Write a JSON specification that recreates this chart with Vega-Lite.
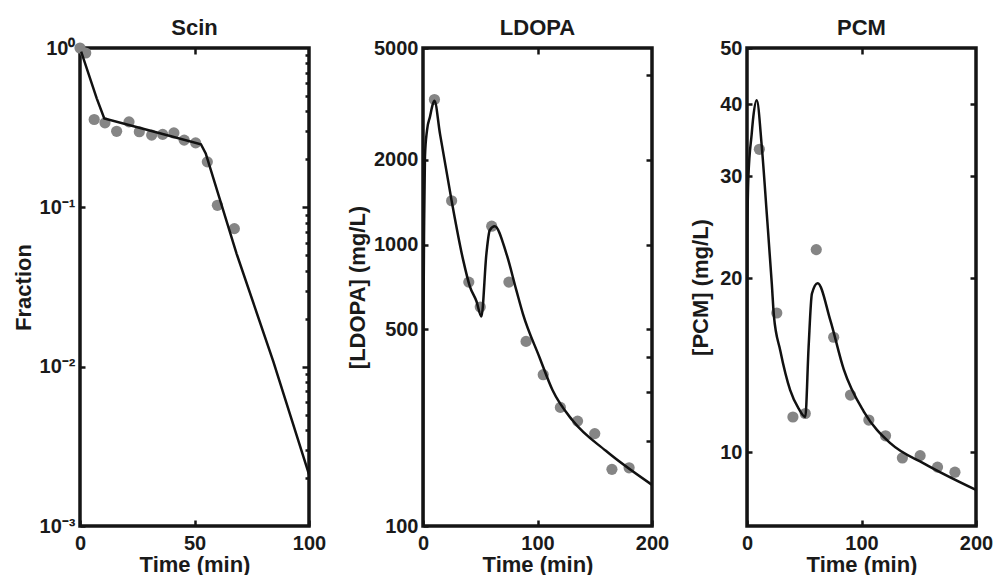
{
  "$schema": "https://vega.github.io/schema/vega-lite/v6.json",
  "autosize": {"type": "pad"},
  "padding": {"left": 10, "top": 15, "right": 0, "bottom": 0},
  "background": "white",
  "spacing": 16,
  "config": {
    "view": {"stroke": "#151515", "strokeWidth": 3.5},
    "font": "Liberation Sans",
    "title": {"font": "Liberation Sans", "fontSize": 22, "fontWeight": "bold", "color": "#1a1a1a", "baseline": "alphabetic", "offset": -2, "frame": "group", "anchor": "middle"},
    "axis": {"domain": false, "grid": false, "tickColor": "#151515", "tickWidth": 2.5, "labelFont": "Liberation Sans", "labelFontSize": 20, "labelFontWeight": "bold", "labelColor": "#1a1a1a", "labelFlush": false, "labelOverlap": false, "labelBound": false, "titleFont": "Liberation Sans", "titleFontSize": 22, "titleFontWeight": "bold", "titleColor": "#1a1a1a"}
  },
  "datasets": {
    "scin_pts": [
      {"t": 0, "v": 1.0}, {"t": 2.5, "v": 0.93}, {"t": 6.2, "v": 0.356}, {"t": 10.9, "v": 0.339}, {"t": 16, "v": 0.30}, {"t": 21.4, "v": 0.344}, {"t": 25.9, "v": 0.298}, {"t": 31.3, "v": 0.284}, {"t": 36.1, "v": 0.287}, {"t": 41, "v": 0.293}, {"t": 45.5, "v": 0.264}, {"t": 50.5, "v": 0.254}, {"t": 55.6, "v": 0.193}, {"t": 60, "v": 0.103}, {"t": 67.4, "v": 0.0735}
    ],
    "scin_fit": [
      {"t": 0.5, "v": 0.95}, {"t": 7.3, "v": 0.483}, {"t": 10.6, "v": 0.361}, {"t": 30, "v": 0.305}, {"t": 52.8, "v": 0.249}, {"t": 54.9, "v": 0.218}, {"t": 68.4, "v": 0.0511}, {"t": 84.4, "v": 0.0108}, {"t": 100, "v": 0.00211}
    ],
    "ldopa_pts": [
      {"t": 10, "v": 3281}, {"t": 25, "v": 1432}, {"t": 40, "v": 736}, {"t": 50, "v": 600}, {"t": 60, "v": 1163}, {"t": 75, "v": 736}, {"t": 90, "v": 453}, {"t": 105, "v": 345}, {"t": 120, "v": 264}, {"t": 135, "v": 236}, {"t": 150, "v": 213}, {"t": 165, "v": 159}, {"t": 180, "v": 161}
    ],
    "ldopa_fit": [
      {"t": 0, "v": 100}, {"t": 0.5, "v": 600}, {"t": 1, "v": 1200}, {"t": 1.7, "v": 2051}, {"t": 3.5, "v": 2550}, {"t": 6.1, "v": 2850}, {"t": 8.5, "v": 3150}, {"t": 10, "v": 3250}, {"t": 14.8, "v": 2484}, {"t": 24.9, "v": 1440}, {"t": 35.1, "v": 881}, {"t": 40.9, "v": 711}, {"t": 46.7, "v": 629}, {"t": 51, "v": 555}, {"t": 55.4, "v": 930}, {"t": 58.3, "v": 1125}, {"t": 62.6, "v": 1163}, {"t": 72.8, "v": 930}, {"t": 81.5, "v": 689}, {"t": 87.2, "v": 569}, {"t": 101.7, "v": 398}, {"t": 113.3, "v": 303}, {"t": 130.7, "v": 237}, {"t": 159.7, "v": 185}, {"t": 200, "v": 140}
    ],
    "pcm_pts": [
      {"t": 10.8, "v": 33.4}, {"t": 26, "v": 17.4}, {"t": 40.1, "v": 11.5}, {"t": 50.9, "v": 11.66}, {"t": 60.5, "v": 22.4}, {"t": 75.7, "v": 15.8}, {"t": 90.4, "v": 12.55}, {"t": 106.4, "v": 11.36}, {"t": 121, "v": 10.67}, {"t": 135.7, "v": 9.77}, {"t": 151.2, "v": 9.86}, {"t": 166.4, "v": 9.42}, {"t": 181.6, "v": 9.23}
    ],
    "pcm_fit": [
      {"t": 0, "v": 7.45}, {"t": 0.15, "v": 14}, {"t": 0.3, "v": 23.8}, {"t": 1.2, "v": 29.9}, {"t": 4.1, "v": 35.5}, {"t": 5.5, "v": 38.0}, {"t": 8.5, "v": 40.6}, {"t": 12.9, "v": 33.8}, {"t": 17.3, "v": 25.8}, {"t": 21.7, "v": 19.5}, {"t": 23.5, "v": 17.2}, {"t": 29, "v": 15.0}, {"t": 37.7, "v": 12.8}, {"t": 45, "v": 11.9}, {"t": 50.9, "v": 11.5}, {"t": 53.8, "v": 15.2}, {"t": 56.7, "v": 18.8}, {"t": 61.7, "v": 19.6}, {"t": 72.8, "v": 16.9}, {"t": 84.5, "v": 13.9}, {"t": 102, "v": 11.75}, {"t": 125.4, "v": 10.35}, {"t": 154.7, "v": 9.55}, {"t": 200, "v": 8.6}
    ]
  },
  "hconcat": [
    {
      "width": 229, "height": 478,
      "title": {"text": "Scin"},
      "layer": [
        {
          "data": {"name": "scin_pts"},
          "mark": {"type": "circle", "color": "#858585", "size": 125, "opacity": 1},
          "encoding": {
            "x": {"field": "t", "type": "quantitative", "scale": {"domain": [0, 100], "nice": false}, "axis": {"orient": "bottom", "values": [0, 50, 100], "tickSize": -6, "labelPadding": 13.5, "title": "Time (min)", "titleX": 114.5, "titleY": 45, "titleBaseline": "alphabetic", "titleAlign": "center"}},
            "y": {"field": "v", "type": "quantitative", "scale": {"type": "log", "domain": [0.001, 1], "nice": false}, "axis": {"orient": "left", "values": [0.001, 0.01, 0.1, 1], "labelExpr": "datum.value >= 0.5 ? '10⁰' : datum.value >= 0.05 ? '10⁻¹' : datum.value >= 0.005 ? '10⁻²' : '10⁻³'", "tickSize": -5, "labelPadding": 10, "title": "Fraction", "titleX": -57, "titleY": 239, "titleAngle": 270, "titleBaseline": "middle", "titleAlign": "center"}}
          }
        },
        {
          "data": {"name": "scin_fit"},
          "mark": {"type": "line", "color": "#111111", "strokeWidth": 2.5, "clip": true},
          "encoding": {
            "x": {"field": "t", "type": "quantitative", "scale": {"domain": [0, 100], "nice": false}, "axis": {"orient": "top", "values": [50], "tickSize": -6, "labels": false, "title": null}},
            "y": {"field": "v", "type": "quantitative", "scale": {"type": "log", "domain": [0.001, 1], "nice": false}, "axis": {"orient": "right", "values": [0.002, 0.003, 0.004, 0.005, 0.006, 0.007, 0.008, 0.009, 0.01, 0.02, 0.03, 0.04, 0.05, 0.06, 0.07, 0.08, 0.09, 0.1, 0.2, 0.3, 0.4, 0.5, 0.6, 0.7, 0.8, 0.9], "tickSize": {"condition": {"test": "datum.value == 0.01 || datum.value == 0.1", "value": -7}, "value": -4}, "labels": false, "title": null}}
          }
        }
      ],
      "resolve": {"axis": {"x": "independent", "y": "independent"}}
    },
    {
      "width": 229, "height": 478,
      "title": {"text": "LDOPA"},
      "layer": [
        {
          "data": {"name": "ldopa_pts"},
          "mark": {"type": "circle", "color": "#858585", "size": 125, "opacity": 1},
          "encoding": {
            "x": {"field": "t", "type": "quantitative", "scale": {"domain": [0, 200], "nice": false}, "axis": {"orient": "bottom", "values": [0, 100, 200], "tickSize": -6, "labelPadding": 13.5, "title": "Time (min)", "titleX": 114.5, "titleY": 45, "titleBaseline": "alphabetic", "titleAlign": "center"}},
            "y": {"field": "v", "type": "quantitative", "scale": {"type": "log", "domain": [100, 5000], "nice": false}, "axis": {"orient": "left", "values": [100, 500, 1000, 2000, 5000], "format": "d", "tickSize": -5, "labelPadding": 10, "title": "[LDOPA] (mg/L)", "titleX": -66, "titleY": 239, "titleAngle": 270, "titleBaseline": "middle", "titleAlign": "center"}}
          }
        },
        {
          "data": {"name": "ldopa_fit"},
          "mark": {"type": "line", "color": "#111111", "strokeWidth": 2.5, "interpolate": "monotone", "clip": true},
          "encoding": {
            "x": {"field": "t", "type": "quantitative", "scale": {"domain": [0, 200], "nice": false}, "axis": {"orient": "top", "values": [100], "tickSize": -6, "labels": false, "title": null}},
            "y": {"field": "v", "type": "quantitative", "scale": {"type": "log", "domain": [100, 5000], "nice": false}, "axis": {"orient": "right", "values": [200, 300, 400, 500, 1000, 2000, 4000], "tickSize": -6, "labels": false, "title": null}}
          }
        }
      ],
      "resolve": {"axis": {"x": "independent", "y": "independent"}}
    },
    {
      "width": 229, "height": 478,
      "title": {"text": "PCM"},
      "layer": [
        {
          "data": {"name": "pcm_pts"},
          "mark": {"type": "circle", "color": "#858585", "size": 125, "opacity": 1},
          "encoding": {
            "x": {"field": "t", "type": "quantitative", "scale": {"domain": [0, 200], "nice": false}, "axis": {"orient": "bottom", "values": [0, 100, 200], "tickSize": -6, "labelPadding": 13.5, "title": "Time (min)", "titleX": 114.5, "titleY": 45, "titleBaseline": "alphabetic", "titleAlign": "center"}},
            "y": {"field": "v", "type": "quantitative", "scale": {"type": "log", "domain": [7.45, 50], "nice": false}, "axis": {"orient": "left", "values": [10, 20, 30, 40, 50], "format": "d", "tickSize": -5, "labelPadding": 10, "title": "[PCM] (mg/L)", "titleX": -47, "titleY": 239, "titleAngle": 270, "titleBaseline": "middle", "titleAlign": "center"}}
          }
        },
        {
          "data": {"name": "pcm_fit"},
          "mark": {"type": "line", "color": "#111111", "strokeWidth": 2.5, "interpolate": "monotone", "clip": true},
          "encoding": {
            "x": {"field": "t", "type": "quantitative", "scale": {"domain": [0, 200], "nice": false}, "axis": {"orient": "top", "values": [100], "tickSize": -6, "labels": false, "title": null}},
            "y": {"field": "v", "type": "quantitative", "scale": {"type": "log", "domain": [7.45, 50], "nice": false}, "axis": {"orient": "right", "values": [10, 20, 30, 40], "tickSize": -6, "labels": false, "title": null}}
          }
        }
      ],
      "resolve": {"axis": {"x": "independent", "y": "independent"}}
    }
  ]
}
